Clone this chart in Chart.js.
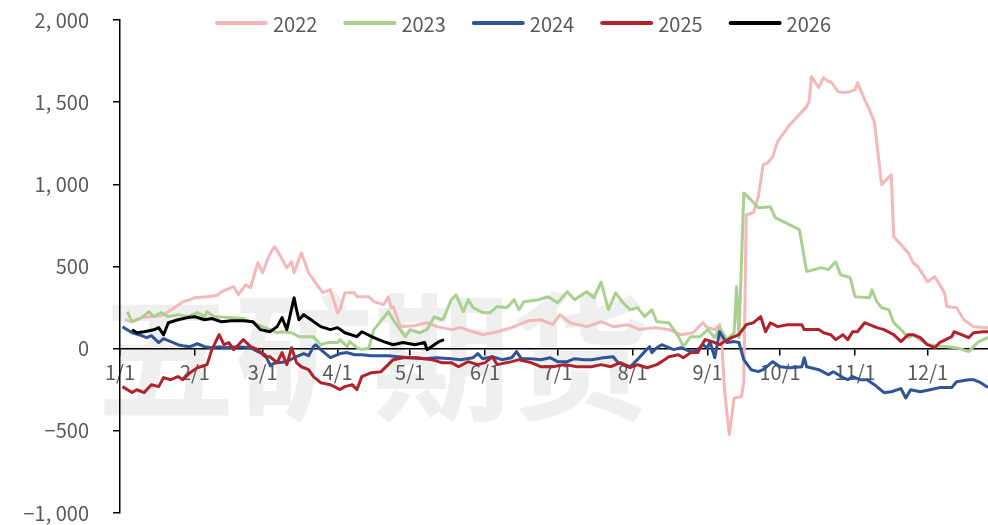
<!DOCTYPE html>
<html>
<head>
<meta charset="utf-8">
<script src="https://cdn.jsdelivr.net/npm/chart.js@4"></script>
<style>
  html, body { margin: 0; padding: 0; background: #fff; }
  canvas { display: block; }
</style>
</head>
<body>
<canvas id="chart" width="988" height="525"></canvas>
<script>
// x = day of year (0 = 1/1), y = spread value
var monthDays = [0, 31, 59, 90, 120, 151, 181, 212, 243, 273, 304, 334]
var monthLabels = ['1/1', '2/1', '3/1', '4/1', '5/1', '6/1', '7/1', '8/1', '9/1', '10/1', '11/1', '12/1']
var yTicks = [-1000, -500, 0, 500, 1000, 1500, 2000]

var seriesNames = ['2022', '2023', '2024', '2025', '2026']
var seriesColors = ['#F2B8BA', '#A9D18E', '#2F5597', '#B0232A', '#000000']

var days2022 = [2, 5, 9, 13, 17, 20, 26, 29, 31, 36, 40, 42, 45, 47, 49, 52, 54, 57, 59, 61, 63, 64, 66, 69, 71, 72, 75, 78, 82, 84, 87, 90, 91, 93, 97, 98, 103, 105, 109, 111, 112, 113, 116, 122, 127, 131, 137, 141, 146, 150, 156, 162, 165, 169, 174, 179, 182, 186, 193, 199, 204, 210, 215, 221, 227, 232, 237, 241, 243, 246, 248, 249, 250, 252, 254, 257, 258, 259, 262, 264, 266, 268, 270, 272, 277, 284, 285, 286, 289, 291, 293, 294, 297, 299, 302, 304, 305, 308, 310, 312, 315, 319, 320, 323, 326, 328, 330, 334, 337, 341, 342, 346, 349, 353, 359]
var vals2022 = [176, 164, 189, 195, 200, 225, 286, 298, 310, 316, 323, 347, 365, 377, 329, 389, 371, 523, 462, 542, 602, 621, 572, 492, 529, 462, 583, 462, 377, 341, 359, 219, 237, 341, 341, 316, 316, 286, 268, 316, 250, 256, 134, 140, 158, 134, 116, 128, 103, 85, 103, 128, 146, 170, 176, 146, 207, 158, 134, 164, 134, 146, 116, 128, 116, 85, 97, 158, 128, 116, 146, 12, -249, -523, -300, -292, -200, 815, 828, 925, 1120, 1132, 1170, 1260, 1363, 1473, 1503, 1655, 1588, 1649, 1625, 1625, 1564, 1558, 1564, 1576, 1619, 1515, 1454, 1381, 998, 1059, 681, 633, 584, 523, 499, 407, 438, 341, 256, 249, 176, 134, 128]

var days2023 = [3, 5, 9, 12, 14, 17, 20, 24, 28, 32, 35, 36, 39, 45, 51, 55, 61, 65, 67, 71, 74, 76, 80, 83, 86, 90, 91, 94, 95, 98, 100, 103, 105, 111, 113, 115, 118, 120, 124, 127, 130, 133, 134, 137, 139, 142, 144, 146, 150, 153, 156, 160, 163, 165, 167, 173, 177, 181, 185, 188, 193, 196, 199, 202, 205, 208, 211, 214, 217, 220, 222, 227, 231, 233, 236, 240, 243, 246, 248, 251, 254, 255, 256, 258, 261, 264, 269, 271, 281, 284, 290, 293, 296, 298, 302, 304, 310, 311, 313, 315, 318, 320, 323, 326, 328, 332, 334, 342, 346, 351, 355, 359]
var vals2023 = [225, 164, 189, 225, 195, 219, 195, 207, 195, 219, 195, 225, 195, 189, 183, 158, 122, 97, 103, 97, 73, 73, 73, 24, 37, 37, 55, 12, 43, 6, -6, 6, 116, 225, 176, 134, 73, 116, 97, 116, 194, 176, 189, 298, 328, 225, 298, 250, 219, 219, 256, 249, 298, 237, 286, 298, 316, 280, 347, 298, 347, 310, 405, 237, 340, 280, 237, 250, 195, 237, 164, 158, 73, 12, 73, 73, 116, 67, 128, 55, 97, 377, 67, 948, 905, 857, 863, 797, 724, 469, 493, 481, 529, 450, 432, 316, 310, 359, 286, 249, 237, 158, 116, 67, 85, 43, 24, 12, 6, -18, 42, 67]

var days2024 = [1, 5, 9, 11, 13, 16, 18, 21, 24, 26, 29, 32, 35, 38, 41, 43, 49, 54, 57, 60, 62, 65, 69, 72, 76, 78, 80, 81, 83, 87, 91, 94, 97, 100, 104, 111, 115, 120, 126, 131, 137, 141, 146, 148, 150, 154, 158, 162, 164, 166, 170, 174, 178, 181, 185, 188, 192, 195, 200, 204, 206, 211, 214, 217, 219, 220, 222, 224, 227, 229, 232, 236, 239, 241, 243, 244, 246, 248, 250, 251, 254, 256, 258, 261, 264, 266, 270, 273, 277, 282, 283, 284, 289, 293, 295, 299, 301, 303, 306, 309, 312, 316, 319, 323, 325, 327, 331, 335, 339, 344, 346, 351, 353, 356, 359]
var vals2024 = [134, 97, 79, 67, 79, 37, 61, 43, 24, 18, 12, 30, 12, 6, 12, 6, 12, 6, -18, -37, -97, -85, -79, -55, -30, -43, 12, 24, -6, -55, -30, -24, -37, -37, -43, -43, -49, -55, -61, -55, -61, -67, -55, -30, -61, -49, -67, -55, -18, -61, -61, -67, -55, -79, -79, -61, -67, -67, -55, -49, -85, -110, -67, -18, 12, -24, 6, 24, 6, -6, 6, -18, -6, 24, 6, 43, -55, 103, 55, 37, 43, 37, -67, -128, -140, -128, -79, -110, -116, -110, -55, -110, -128, -158, -140, -176, -189, -170, -189, -189, -219, -268, -262, -243, -300, -250, -262, -250, -237, -237, -201, -189, -189, -207, -237]

var days2025 = [1, 5, 7, 10, 13, 16, 18, 21, 24, 26, 29, 32, 36, 38, 41, 43, 45, 47, 49, 51, 54, 57, 60, 62, 65, 67, 69, 71, 73, 75, 78, 80, 83, 87, 91, 93, 96, 98, 100, 104, 108, 113, 117, 123, 129, 133, 137, 140, 144, 148, 151, 154, 156, 162, 165, 170, 174, 179, 184, 189, 195, 199, 203, 207, 211, 214, 218, 222, 224, 227, 231, 233, 236, 239, 240, 242, 245, 248, 250, 253, 256, 259, 262, 265, 267, 269, 272, 276, 282, 283, 286, 289, 291, 294, 296, 299, 301, 303, 305, 308, 310, 313, 316, 320, 323, 326, 328, 331, 334, 337, 339, 344, 345, 348, 351, 353, 357, 359]
var vals2025 = [-231, -267, -250, -267, -219, -231, -176, -189, -170, -189, -146, -116, -97, -6, 85, 24, 37, -6, 24, 55, 12, -6, -49, -49, -85, -24, -97, 6, -85, -110, -128, -170, -207, -219, -249, -231, -219, -249, -170, -146, -140, -67, -55, -55, -67, -85, -85, -110, -79, -97, -85, -49, -97, -79, -67, -85, -110, -110, -97, -110, -110, -97, -110, -85, -116, -97, -116, -97, -79, -49, -37, -55, -24, -24, 6, 55, 43, 24, 43, 67, 85, 146, 158, 195, 103, 158, 134, 146, 146, 116, 116, 116, 97, 85, 55, 85, 55, 103, 103, 158, 146, 128, 116, 85, 43, 85, 85, 67, 24, 6, 37, 73, 103, 85, 67, 97, 103, 103]

var days2026 = [5, 7, 10, 14, 16, 18, 20, 24, 28, 31, 35, 38, 42, 46, 51, 55, 58, 62, 65, 67, 69, 72, 73, 74, 76, 79, 83, 87, 90, 93, 98, 100, 105, 109, 113, 117, 122, 126, 127, 130, 132, 134]
var vals2026 = [115, 97, 103, 115, 128, 85, 158, 176, 189, 194, 176, 183, 164, 170, 170, 164, 116, 103, 134, 189, 116, 310, 237, 176, 207, 176, 134, 116, 128, 97, 73, 103, 67, 43, 24, 37, 24, 37, -6, 24, 43, 55]

var allDays = [days2022, days2023, days2024, days2025, days2026]
var allVals = [vals2022, vals2023, vals2024, vals2025, vals2026]

function toPoints(days, vals) {
    return days.map((d, i) => ({ x: d, y: vals[i] }))
}

function formatNumber(v) {
    var a = Math.abs(v)
    var s = a >= 1000 ? Math.floor(a / 1000) + ', ' + String(a % 1000).padStart(3, '0') : String(a)
    return (v < 0 ? '\u2212' : '') + s
}

var labelFont = { family: "'Noto Sans CJK SC', 'Noto Sans', sans-serif", size: 20 }
var labelColor = '#595959'

// faint watermark behind the plot
var watermark = {
    id: 'watermark',
    beforeDraw(chart) {
        var ctx = chart.ctx
        ctx.save()
        ctx.fillStyle = '#efefef'
        ctx.font = "bold 138px 'Noto Sans CJK SC', sans-serif"
        ctx.textAlign = 'center'
        ctx.textBaseline = 'middle'
        ctx.fillText('五矿期货', 373, 357)
        ctx.restore()
    }
}

// legend drawn on top of the plot, like the original
var topLegend = {
    id: 'topLegend',
    afterDraw(chart) {
        var ctx = chart.ctx
        ctx.save()
        ctx.font = "20px " + labelFont.family
        ctx.textBaseline = 'middle'
        var x = 215, y = 23
        seriesNames.forEach((name, i) => {
            ctx.strokeStyle = seriesColors[i]
            ctx.lineWidth = 4
            ctx.lineCap = 'round'
            ctx.beginPath()
            ctx.moveTo(x + 2, y)
            ctx.lineTo(x + 51, y)
            ctx.stroke()
            ctx.fillStyle = labelColor
            ctx.fillText(name, x + 58, y + 1)
            x += 58 + ctx.measureText(name).width + 26
        })
        ctx.restore()
    }
}

// datasets in reverse so later years draw on top
var datasets = []
for (var i = seriesNames.length - 1; i >= 0; i--) {
    datasets.push({
        label: seriesNames[i],
        data: toPoints(allDays[i], allVals[i]),
        borderColor: seriesColors[i],
        backgroundColor: seriesColors[i],
        borderWidth: 3,
        pointRadius: 0,
        tension: 0,
        borderJoinStyle: 'round'
    })
}

new Chart(document.getElementById('chart'), {
    type: 'line',
    data: { datasets: datasets },
    options: {
        responsive: false,
        animation: false,
        events: [],
        layout: { padding: { top: 20, right: 0, bottom: 12, left: 0 } },
        plugins: {
            legend: { display: false },
            tooltip: { enabled: false }
        },
        scales: {
            x: {
                type: 'linear',
                position: { y: 0 },
                min: 0,
                max: 359,
                afterBuildTicks: (scale) => {
                    scale.ticks = monthDays.map(v => ({ value: v }))
                },
                afterFit: (scale) => {
                    scale.height = 0
                    scale.paddingLeft = 0
                    scale.paddingRight = 0
                },
                ticks: {
                    autoSkip: false,
                    maxRotation: 0,
                    padding: 6,
                    color: labelColor,
                    font: labelFont,
                    callback: (v) => monthLabels[monthDays.indexOf(v)]
                },
                grid: { drawOnChartArea: false, drawTicks: true, tickLength: 6, color: '#000', lineWidth: 1.5 },
                border: { color: '#000', width: 1.5 }
            },
            y: {
                min: -1000,
                max: 2000,
                afterBuildTicks: (scale) => {
                    scale.ticks = yTicks.map(v => ({ value: v }))
                },
                afterFit: (scale) => {
                    scale.width = 120
                    scale.paddingTop = 0
                    scale.paddingBottom = 0
                },
                ticks: {
                    padding: 24,
                    color: labelColor,
                    font: labelFont,
                    callback: (v) => formatNumber(v)
                },
                grid: { drawOnChartArea: false, drawTicks: true, tickLength: 7, color: '#000', lineWidth: 1.5 },
                border: { color: '#000', width: 1.5 }
            }
        }
    },
    plugins: [watermark, topLegend]
})
</script>
</body>
</html>
